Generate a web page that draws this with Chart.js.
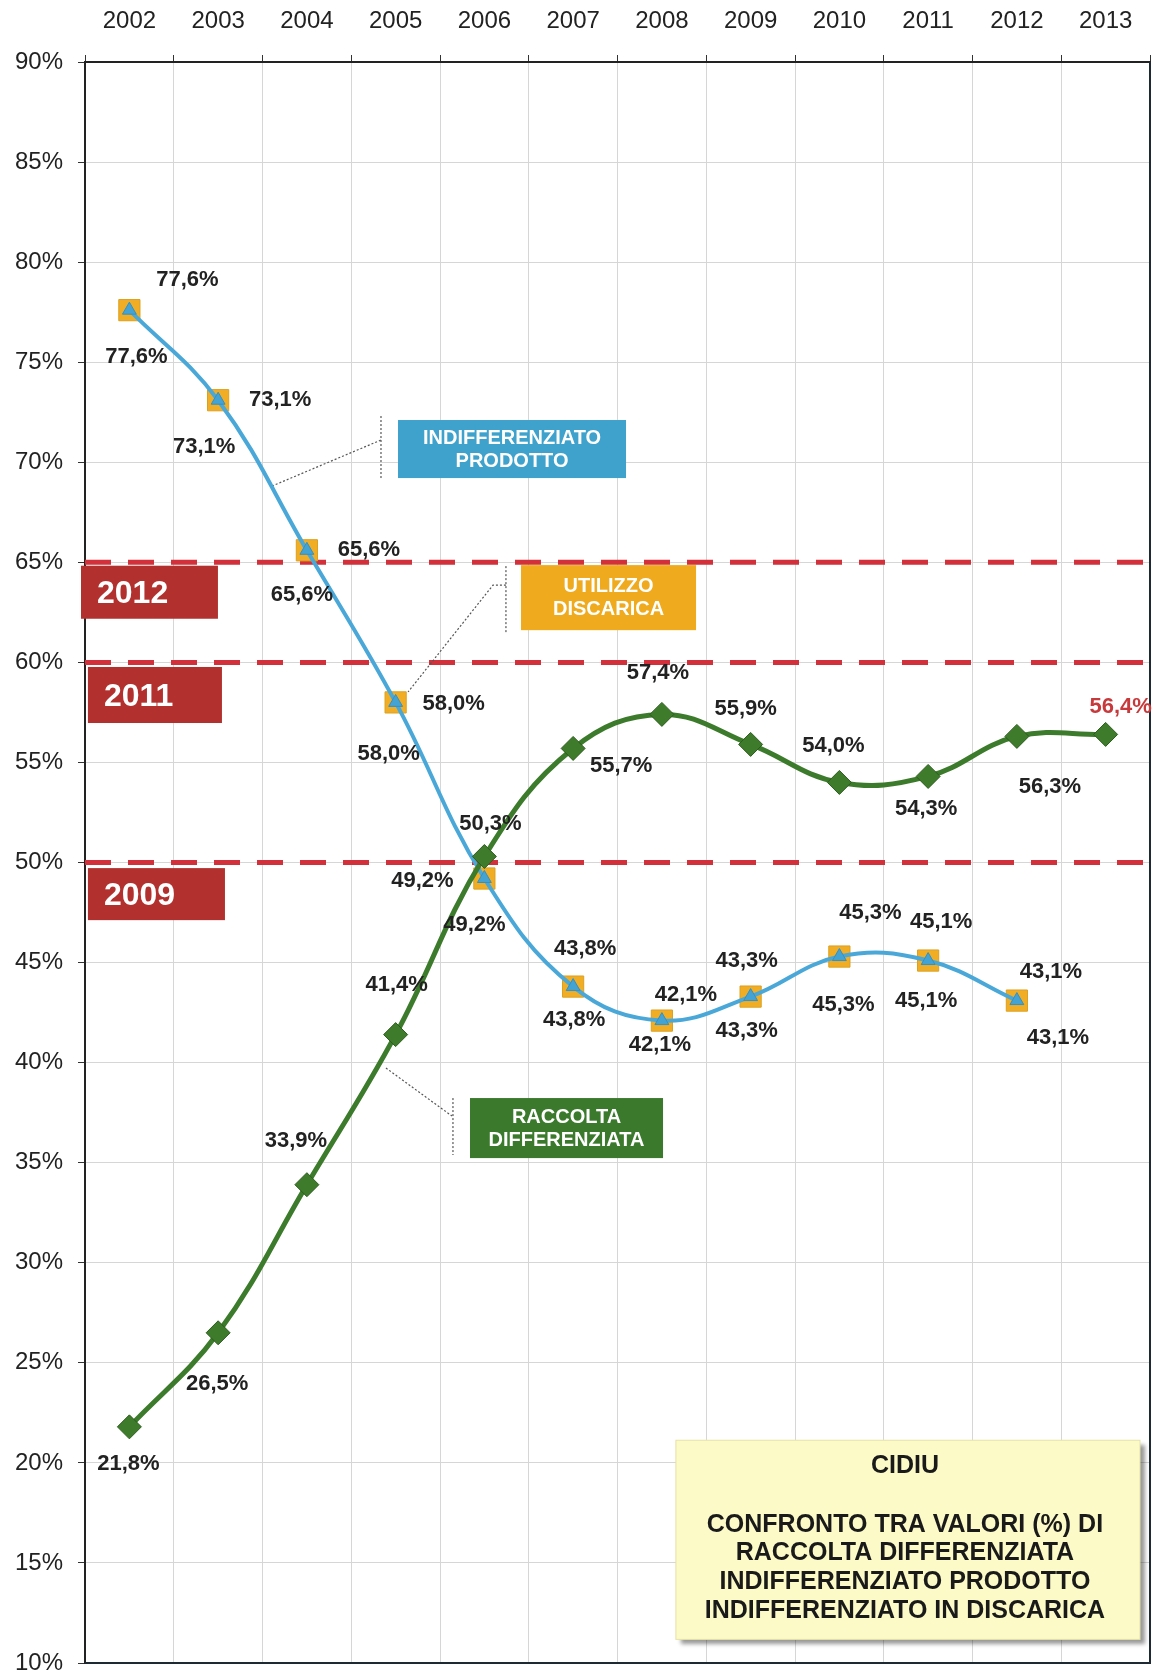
<!DOCTYPE html>
<html><head><meta charset="utf-8">
<script src="https://cdn.jsdelivr.net/npm/chart.js@4.4.1/dist/chart.umd.min.js"></script>
<style>html,body{margin:0;padding:0;background:#fff;overflow:hidden;} canvas{display:block;}</style>
</head><body><canvas id="c" width="1152" height="1674" style="width:1152px;height:1674px"></canvas>
<script>
// ---- data ----
const years = ['2002','2003','2004','2005','2006','2007','2008','2009','2010','2011','2012','2013'];
const raccoltaDifferenziata = [21.8, 26.5, 33.9, 41.4, 50.3, 55.7, 57.4, 55.9, 54.0, 54.3, 56.3, 56.4];
const indifferenziatoProdotto = [77.6, 73.1, 65.6, 58.0, 49.2, 43.8, 42.1, 43.3, 45.3, 45.1, 43.1, null];
const utilizzoDiscarica = [77.6, 73.1, 65.6, 58.0, 49.2, 43.8, 42.1, 43.3, 45.3, 45.1, 43.1, null];
const yMin = 10, yMax = 90, yStep = 5;
const targetLevels = [65, 60, 50];
const targetYears = ['2012', '2011', '2009'];
const calloutIndiff = ['INDIFFERENZIATO', 'PRODOTTO'];
const calloutDiscarica = ['UTILIZZO', 'DISCARICA'];
const calloutRaccolta = ['RACCOLTA', 'DIFFERENZIATA'];
const noteLines = ['CIDIU', '', 'CONFRONTO TRA VALORI (%) DI', 'RACCOLTA DIFFERENZIATA', 'INDIFFERENZIATO PRODOTTO', 'INDIFFERENZIATO IN DISCARICA'];

// ---- label placement (pixel offsets from each point) ----
const offDiscarica = [[58,-30],[62,0],[62,0],[58,2],[-62,2],[12,-38],[24,-26],[-4,-36],[31,-44],[13,-39],[34,-29]];
const offIndiff = [[7,47],[-14,47],[-5,45],[-7,52],[-10,46],[1,33],[-2,24],[-4,34],[4,48],[-2,40],[41,37]];
const offRaccolta = [[-1,37],[-1,51],[-11,-44],[1,-50],[6,-33],[48,18],[-4,-41],[-5,-35],[-6,-37],[-2,32],[33,51],[15,-27]];

// ---- annotation geometry in data units (category index, percent) ----
const yearBoxes = [
  {x0:-0.545, x1:0.998, top:64.83, bot:62.18},
  {x0:-0.467, x1:1.043, top:59.77, bot:56.97},
  {x0:-0.467, x1:1.077, top:49.72, bot:47.12}
];
const boxIndiff = {x0:3.027, x1:5.596, top:72.11, bot:69.21, color:'#3ea2cc'};
const boxDiscarica = {x0:4.413, x1:6.385, top:64.86, bot:61.61, color:'#efaa1e'};
const boxRaccolta = {x0:3.838, x1:6.013, top:38.23, bot:35.23, color:'#3b7a2c'};
const boxNote = {x0:6.158, x1:11.387, top:21.13, bot:11.18};
const leaders = [
  [[1.607,68.81],[2.835,71.11]], [[2.835,72.31],[2.835,69.11]],
  [[4.243,64.81],[4.243,61.51]], [[4.243,63.86],[4.097,63.86],[3.14,58.52]],
  [[3.646,38.23],[3.646,35.38]], [[2.891,39.73],[3.635,37.33]]
];

function fmt(v){ return v.toFixed(1).replace('.', ',') + '%'; }

const annot = {
  id: 'annot',
  beforeDatasetsDraw(chart){
    const {ctx, chartArea:a, scales:{x, y}} = chart;
    ctx.save();
    yearBoxes.forEach((b, i) => {
      const X0 = x.getPixelForValue(b.x0), X1 = x.getPixelForValue(b.x1);
      const Y0 = y.getPixelForValue(b.top), Y1 = y.getPixelForValue(b.bot);
      ctx.fillStyle = '#b2302d';
      ctx.fillRect(X0, Y0, X1 - X0, Y1 - Y0);
      ctx.fillStyle = '#ffffff';
      ctx.font = 'bold 32px "Liberation Sans", Arial, sans-serif';
      ctx.textAlign = 'left'; ctx.textBaseline = 'middle';
      ctx.fillText(targetYears[i], X0 + 16, (Y0 + Y1) / 2 + 2);
    });
    ctx.strokeStyle = '#d2303a';
    ctx.lineWidth = 5;
    ctx.setLineDash([26, 17]);
    targetLevels.forEach(lv => {
      const Y = y.getPixelForValue(lv);
      ctx.beginPath(); ctx.moveTo(a.left, Y); ctx.lineTo(a.right, Y); ctx.stroke();
    });
    ctx.setLineDash([]);
    ctx.strokeStyle = '#555';
    ctx.lineWidth = 1.2;
    ctx.setLineDash([2, 2]);
    leaders.forEach(pts => {
      ctx.beginPath();
      pts.forEach((p, k) => {
        const X = x.getPixelForValue(p[0]), Y = y.getPixelForValue(p[1]);
        if (k === 0) ctx.moveTo(X, Y); else ctx.lineTo(X, Y);
      });
      ctx.stroke();
    });
    ctx.restore();
  },
  afterDatasetsDraw(chart){
    const {ctx, chartArea:a, scales:{x, y}} = chart;
    ctx.save();
    ctx.strokeStyle = '#1e2a33';
    ctx.lineWidth = 2;
    ctx.beginPath();
    ctx.moveTo(a.right, a.top); ctx.lineTo(a.right, a.bottom); ctx.lineTo(a.left, a.bottom);
    ctx.stroke();

    ctx.font = 'bold 22px "Liberation Sans", Arial, sans-serif';
    ctx.textAlign = 'center'; ctx.textBaseline = 'middle';
    const sets = [
      {ds: 2, off: offDiscarica},
      {ds: 1, off: offIndiff},
      {ds: 0, off: offRaccolta}
    ];
    sets.forEach(s => {
      const meta = chart.getDatasetMeta(s.ds);
      const data = chart.data.datasets[s.ds].data;
      meta.data.forEach((pt, i) => {
        const v = data[i];
        if (v == null || !s.off[i]) return;
        ctx.fillStyle = (s.ds === 0 && i === data.length - 1) ? '#c8393b' : '#222';
        ctx.fillText(fmt(v), pt.x + s.off[i][0], pt.y + s.off[i][1]);
      });
    });

    const callout = (b, lines) => {
      const X0 = x.getPixelForValue(b.x0), X1 = x.getPixelForValue(b.x1);
      const Y0 = y.getPixelForValue(b.top), Y1 = y.getPixelForValue(b.bot);
      ctx.fillStyle = b.color;
      ctx.fillRect(X0, Y0, X1 - X0, Y1 - Y0);
      ctx.fillStyle = '#ffffff';
      ctx.font = 'bold 20px "Liberation Sans", Arial, sans-serif';
      ctx.textAlign = 'center'; ctx.textBaseline = 'middle';
      const cx = (X0 + X1) / 2, cy = (Y0 + Y1) / 2;
      ctx.fillText(lines[0], cx, cy - 11);
      ctx.fillText(lines[1], cx, cy + 12);
    };
    callout(boxIndiff, calloutIndiff);
    callout(boxDiscarica, calloutDiscarica);
    callout(boxRaccolta, calloutRaccolta);

    const X0 = x.getPixelForValue(boxNote.x0), X1 = x.getPixelForValue(boxNote.x1);
    const Y0 = y.getPixelForValue(boxNote.top), Y1 = y.getPixelForValue(boxNote.bot);
    ctx.save();
    ctx.shadowColor = 'rgba(0,0,0,0.4)';
    ctx.shadowOffsetX = 5; ctx.shadowOffsetY = 5; ctx.shadowBlur = 4;
    ctx.fillStyle = '#fcfac6';
    ctx.fillRect(X0, Y0, X1 - X0, Y1 - Y0);
    ctx.restore();
    ctx.strokeStyle = '#e6e2a6'; ctx.lineWidth = 1;
    ctx.strokeRect(X0, Y0, X1 - X0, Y1 - Y0);
    ctx.fillStyle = '#1a1a1a';
    ctx.font = 'bold 25px "Liberation Sans", Arial, sans-serif';
    ctx.textAlign = 'center'; ctx.textBaseline = 'middle';
    const cx = (X0 + X1) / 2 - 3;
    const lineYs = [26, 56, 85, 113, 142, 171];
    noteLines.forEach((t, i) => { if (t) ctx.fillText(t, cx, Y0 + lineYs[i]); });
    ctx.restore();
  }
};

const yTickValues = [];
for (let v = yMin; v <= yMax; v += yStep) yTickValues.push(v);

new Chart(document.getElementById('c'), {
  type: 'line',
  data: {
    labels: years,
    datasets: [
      {label: 'Raccolta differenziata', data: raccoltaDifferenziata, borderColor: '#3c7b2b', borderWidth: 5, tension: 0.4,
       pointStyle: 'rectRot', pointRadius: 12, pointBackgroundColor: '#3e7c2c', pointBorderColor: '#2c5c1d', pointBorderWidth: 1, order: 1, clip: false},
      {label: 'Indifferenziato prodotto', data: indifferenziatoProdotto, borderColor: '#4aa8d8', borderWidth: 4, tension: 0.4,
       pointStyle: 'triangle', pointRadius: 8, pointBackgroundColor: '#45a3d3', pointBorderColor: '#3590c0', pointBorderWidth: 1, order: 2, clip: false},
      {label: 'Utilizzo discarica', data: utilizzoDiscarica, showLine: false,
       pointStyle: 'rect', pointRadius: 15, pointBackgroundColor: '#f1ae25', pointBorderColor: '#dca020', pointBorderWidth: 1, order: 3, clip: false}
    ]
  },
  options: {
    responsive: false, animation: false, devicePixelRatio: 1,
    layout: {autoPadding: false, padding: {top: 0, right: 2, bottom: 0, left: 0}},
    plugins: {legend: {display: false}, tooltip: {enabled: false}},
    scales: {
      x: {
        type: 'category', position: 'top', offset: true,
        grid: {offset: true, color: '#d6d6d6', lineWidth: 1, tickColor: '#333', tickLength: 7},
        border: {display: true, color: '#222', width: 2},
        ticks: {font: {family: '"Liberation Sans", Arial, sans-serif', size: 24}, color: '#222', padding: 19, maxRotation: 0, autoSkip: false},
        afterFit(s){ s.height = 62; s.paddingLeft = 0; s.paddingRight = 0; }
      },
      y: {
        min: yMin, max: yMax,
        afterBuildTicks(s){ s.ticks = yTickValues.map(v => ({value: v})); },
        grid: {color: '#d6d6d6', lineWidth: 1, tickColor: '#333', tickLength: 7},
        border: {display: true, color: '#222', width: 2},
        ticks: {font: {family: '"Liberation Sans", Arial, sans-serif', size: 24, lineHeight: 1}, color: '#222', padding: 15,
                callback: v => v + '%'},
        afterFit(s){ s.width = 85; s.paddingTop = 0; s.paddingBottom = 11; }
      }
    }
  },
  plugins: [annot]
});
</script>
</body></html>
